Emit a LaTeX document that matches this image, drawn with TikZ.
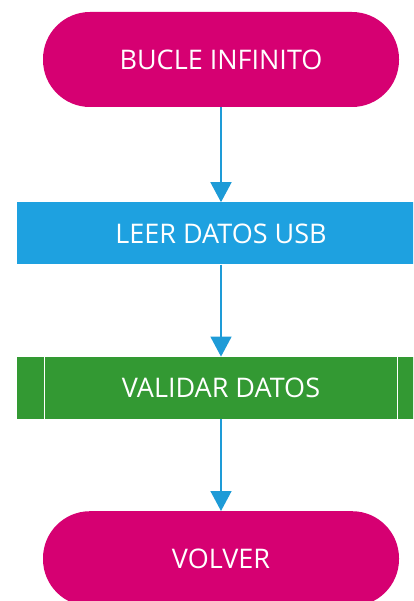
\documentclass[tikz,border=0pt]{standalone}
\usepackage{fontspec}
\setmainfont{Open Sans}
\usepackage{tikz}
\usetikzlibrary{arrows.meta,positioning,calc}
\definecolor{loopmagenta}{RGB}{214,0,114}
\definecolor{stepblue}{RGB}{30,161,224}
\definecolor{subgreen}{RGB}{51,153,51}
\definecolor{arrowblue}{RGB}{30,155,215}
\tikzset{
  term/.style={rectangle, rounded corners=47pt, fill=loopmagenta,
               minimum width=356pt, minimum height=95pt,
               text=white, font=\fontsize{27}{31}\selectfont, align=center},
  proc/.style={rectangle, fill=#1, minimum width=408pt, minimum height=62pt,
               text=white, font=\fontsize{27}{31}\selectfont, align=center},
  arr/.style={-{Triangle[width=21pt, length=20pt]}, line width=1.5pt, arrowblue},
}

\begin{document}
\begin{tikzpicture}[node distance=93pt]
        \clip (0pt,0pt) rectangle (413pt,-601pt);
        \useasboundingbox (0pt,0pt) rectangle (413pt,-601pt);
        \node[term] (loop) at (221pt,-59.5pt) {BUCLE INFINITO};
        \node[proc=stepblue, below=95pt of loop] (read) {LEER DATOS USB};
        \node[proc=subgreen, below=92pt of read] (check) {VALIDAR DATOS};
        \node[term, below=92pt of check] (back) {VOLVER};

        % subprocess bars
        \draw[white, line width=0.8pt]
              ($(check.north west)+(28pt,0)$) -- ($(check.south west)+(28pt,0)$)
              ($(check.north east)+(-28pt,0)$) -- ($(check.south east)+(-28pt,0)$);

        \draw[arr] (loop) -- (read);
        \draw[arr] (read) -- (check);
        \draw[arr] (check) -- (back);
      \end{tikzpicture}
\end{document}
